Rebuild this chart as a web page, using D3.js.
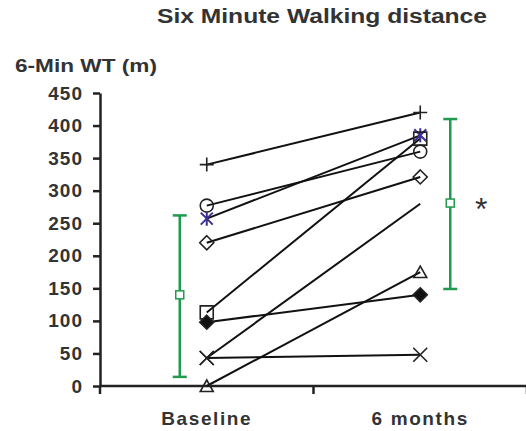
<!DOCTYPE html>
<html>
<head>
<meta charset="utf-8">
<script src="https://cdn.jsdelivr.net/npm/d3@7"></script>
<style>
  body { margin: 0; background: #fff; }
  text { font-family: "Liberation Sans", Arial, sans-serif; font-weight: bold; fill: #333; }
</style>
</head>
<body>
<svg width="526" height="431"></svg>
<script>
// data
var categories = ["Baseline", "6 months"];
var patients = ["1", "2", "3", "4", "5", "6", "7", "8", "9"];
var baseline  = [340, 277, 257, 220, 113, 98, 43, 43, 0];
var sixMonths = [420, 360, 385, 321, 380, 140, 48, 280, 175];
var groupMean = [140, 281];
var groupHigh = [262, 410];
var groupLow  = [14, 149];
var yTicks = [0, 50, 100, 150, 200, 250, 300, 350, 400, 450];

// marker per patient: [baseline, 6 months]
var symbols = [
  ["plus", "plus"], ["circle", "circle"], ["star", "star"], ["diamond", "diamond"],
  ["square", "square"], ["filled", "filled"], ["cross", "cross"], ["cross", "none"],
  ["triangle", "triangle"]
];

var svg = d3.select("svg");

var x = d3.scaleBand().domain(categories).range([100, 527]).paddingInner(0).paddingOuter(0);
var y = d3.scaleLinear().domain([0, 450]).range([386, 93]);
var cx = function(c) { return x(c) + x.bandwidth() / 2; };

function markerPath(type) {
  var s = 7;
  switch (type) {
    case "plus": return "M" + -s + ",0H" + s + "M0," + -s + "V" + s;
    case "cross": return "M" + -s + "," + -s + "L" + s + "," + s + "M" + -s + "," + s + "L" + s + "," + -s;
    case "star": return "M-6,-6L6,6M-6,6L6,-6M0,-7V7";
    case "circle": return d3.symbol(d3.symbolCircle, Math.PI * 6.5 * 6.5)();
    case "diamond":
    case "filled": return "M0,-7L7,0L0,7L-7,0Z";
    case "square": return "M-6.5,-6.5h13v13h-13Z";
    case "triangle": return "M0,-6L6.5,5.5H-6.5Z";
  }
  return null;
}

// title
svg.append("text")
    .attr("x", 157).attr("y", 23)
    .attr("textLength", 330).attr("lengthAdjust", "spacingAndGlyphs")
    .style("font-size", "20px")
    .text("Six Minute Walking distance");

svg.append("text")
    .attr("x", 15).attr("y", 72)
    .attr("textLength", 142).attr("lengthAdjust", "spacingAndGlyphs")
    .style("font-size", "19px")
    .text("6-Min WT (m)");

// y axis
var yAxis = svg.append("g")
    .attr("transform", "translate(100,0)")
    .call(d3.axisLeft(y).tickValues(yTicks).tickSize(7).tickPadding(10).tickSizeOuter(0));
yAxis.select(".domain").attr("stroke", "#222").attr("stroke-width", 2.5);
yAxis.selectAll(".tick line").attr("stroke", "#222").attr("stroke-width", 2.5);
yAxis.selectAll(".tick text")
    .style("font-size", "19px")
    .style("letter-spacing", "1px")
    .style("font-family", "'Liberation Sans', Arial, sans-serif")
    .attr("fill", "#333");

// x axis: line with ticks on category boundaries
var xg = svg.append("g");
xg.append("line")
    .attr("x1", 100).attr("x2", 527)
    .attr("y1", y(0)).attr("y2", y(0))
    .attr("stroke", "#222").attr("stroke-width", 2.5);
var edges = categories.map(function(c) { return x(c); }).concat([x(categories[1]) + x.bandwidth()]);
xg.selectAll(".edge").data(edges).enter().append("line")
    .attr("x1", function(d) { return d; }).attr("x2", function(d) { return d; })
    .attr("y1", y(0)).attr("y2", y(0) + 8)
    .attr("stroke", "#222").attr("stroke-width", 2.5);
xg.selectAll(".lab").data(categories).enter().append("text")
    .attr("x", cx).attr("y", 425)
    .attr("text-anchor", "middle")
    .style("font-size", "19px")
    .style("letter-spacing", "1.6px")
    .text(function(d) { return d; });

// patient lines
var rows = patients.map(function(p, i) { return { id: p, v: [baseline[i], sixMonths[i]], sym: symbols[i] }; });

svg.append("g").selectAll("line").data(rows).enter().append("line")
    .attr("x1", cx(categories[0])).attr("x2", cx(categories[1]))
    .attr("y1", function(d) { return y(d.v[0]); })
    .attr("y2", function(d) { return y(d.v[1]); })
    .attr("stroke", "#111").attr("stroke-width", 2);

var marks = [];
rows.forEach(function(r) {
  categories.forEach(function(c, j) {
    if (r.sym[j] !== "none") marks.push({ c: c, v: r.v[j], type: r.sym[j] });
  });
});

svg.append("g").selectAll("path").data(marks).enter().append("path")
    .attr("transform", function(d) { return "translate(" + cx(d.c) + "," + y(d.v) + ")"; })
    .attr("d", function(d) { return markerPath(d.type); })
    .attr("fill", function(d) { return d.type === "filled" ? "#111" : "none"; })
    .attr("stroke", function(d) { return d.type === "star" ? "#3b3093" : "#222"; })
    .attr("stroke-width", function(d) { return d.type === "star" ? 2 : 1.6; });

// group mean +/- range (green)
var green = "#1f9a4e";
var offs = [-27, 30];
var eb = svg.append("g").selectAll("g").data(categories).enter().append("g")
    .attr("transform", function(d, i) { return "translate(" + (cx(d) + offs[i]) + ",0)"; });
eb.append("line")
    .attr("y1", function(d, i) { return y(groupHigh[i]); })
    .attr("y2", function(d, i) { return y(groupLow[i]); })
    .attr("stroke", green).attr("stroke-width", 2.5);
eb.append("line").attr("x1", -7).attr("x2", 7)
    .attr("y1", function(d, i) { return y(groupHigh[i]); })
    .attr("y2", function(d, i) { return y(groupHigh[i]); })
    .attr("stroke", green).attr("stroke-width", 2.5);
eb.append("line").attr("x1", -7).attr("x2", 7)
    .attr("y1", function(d, i) { return y(groupLow[i]); })
    .attr("y2", function(d, i) { return y(groupLow[i]); })
    .attr("stroke", green).attr("stroke-width", 2.5);
eb.append("rect")
    .attr("x", -4).attr("width", 8).attr("height", 8)
    .attr("y", function(d, i) { return y(groupMean[i]) - 4; })
    .attr("fill", "#fff").attr("stroke", green).attr("stroke-width", 1.5);

// significance
svg.append("text")
    .attr("x", cx(categories[1]) + 61).attr("y", y(groupMean[1]) + 17)
    .attr("text-anchor", "middle")
    .style("font-size", "32px").style("font-weight", "normal")
    .text("*");
</script>
</body>
</html>
